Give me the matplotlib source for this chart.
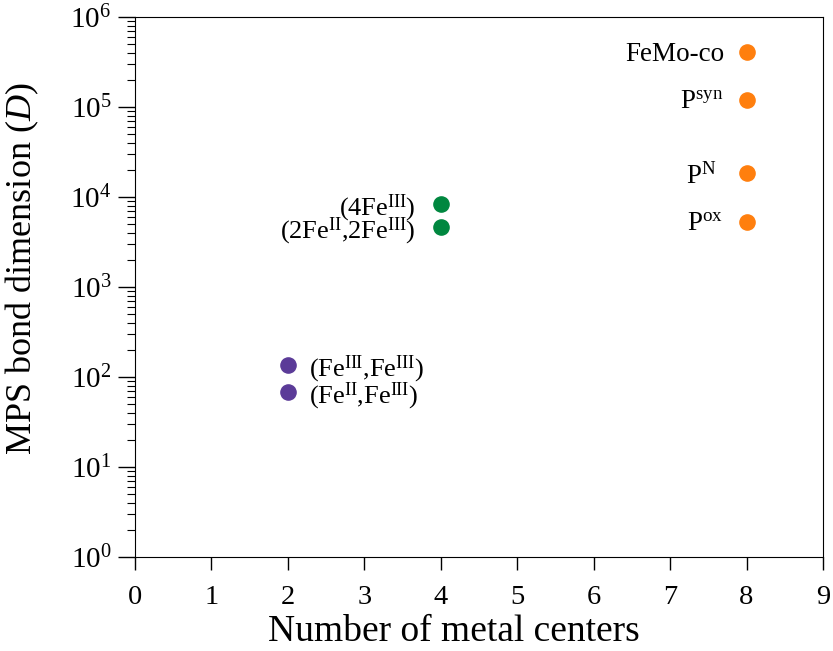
import matplotlib
matplotlib.use("Agg")
import matplotlib.pyplot as plt
from matplotlib.ticker import LogLocator, NullFormatter

# --------------------------------------------------
# DATA
# --------------------------------------------------
n_metal_2 = [2, 2]
dim_2 = [136, 68]
labels_2 = [r"(Fe$^{\mathrm{III}}$,Fe$^{\mathrm{III}}$)",
            r"(Fe$^{\mathrm{II}}$,Fe$^{\mathrm{III}}$)"]

n_metal_4 = [4, 4]
dim_4 = [8300, 4600]
labels_4 = [r"(4Fe$^{\mathrm{III}}$)",
            r"(2Fe$^{\mathrm{II}}$,2Fe$^{\mathrm{III}}$)"]

n_metal_8 = [8, 8, 8, 8]
dim_8 = [410000, 120000, 18500, 5300]
labels_8 = ["FeMo-co", r"P$^{\mathrm{syn}}$", r"P$^{\mathrm{N}}$", r"P$^{\mathrm{ox}}$"]

# --------------------------------------------------
# STYLE
# --------------------------------------------------
plt.rcParams["font.family"] = ["Liberation Serif", "DejaVu Serif"]
plt.rcParams["mathtext.fontset"] = "custom"
plt.rcParams["mathtext.rm"] = "Liberation Serif"
plt.rcParams["mathtext.it"] = "Liberation Serif:italic"
plt.rcParams["mathtext.bf"] = "Liberation Serif:bold"

fig = plt.figure(figsize=(8.33, 6.51), dpi=100)
ax = fig.add_axes([0.162, 0.1444, 0.826, 0.8296])

ax.scatter(n_metal_2, dim_2, s=120, color="#5b3b98", zorder=3)
ax.scatter(n_metal_4, dim_4, s=120, color="#00873f", zorder=3)
ax.scatter(n_metal_8, dim_8, s=120, color="#ff7f0e", zorder=3)

# label placement (points, from marker centre)
for x, y, lab in zip(n_metal_2, dim_2, labels_2):
    ax.annotate(lab, (x, y), xytext=(15, 0), textcoords="offset points",
                ha="left", va="center_baseline", fontsize=19)

for x, y, lab in zip(n_metal_4, dim_4, labels_4):
    ax.annotate(lab, (x, y), xytext=(-18, 0), textcoords="offset points",
                ha="right", va="center_baseline", fontsize=19)

offsets_8 = [-16, -17, -21.5, -17]
for x, y, lab, dx in zip(n_metal_8, dim_8, labels_8, offsets_8):
    ax.annotate(lab, (x, y), xytext=(dx, 0), textcoords="offset points",
                ha="right", va="center_baseline", fontsize=19.5)

ax.set_yscale("log")
ax.set_ylim(1, 1e6)
ax.set_xlim(0, 9)
ax.set_xticks(range(10))
ax.yaxis.set_major_locator(LogLocator(base=10, numticks=10))
ax.yaxis.set_minor_locator(LogLocator(base=10, subs=range(2, 10), numticks=20))
ax.yaxis.set_minor_formatter(NullFormatter())

ax.tick_params(axis="y", which="major", length=12, width=1, labelsize=21, pad=5)
ax.tick_params(axis="y", which="minor", length=6, width=0.8)
ax.tick_params(axis="x", which="major", length=9.5, width=1, labelsize=20.5, pad=11)

ax.set_xlabel("Number of metal centers", fontsize=27)
ax.set_ylabel(r"MPS bond dimension ($D$)", fontsize=26)
ax.xaxis.set_label_coords(0.464, -0.106)
ax.yaxis.set_label_coords(-0.136, 0.533)

plt.savefig("out.png", dpi=100)
